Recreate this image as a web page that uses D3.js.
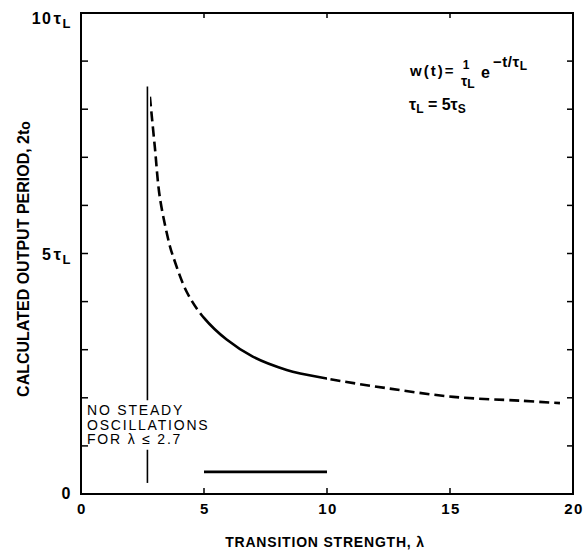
<!DOCTYPE html>
<html><head><meta charset="utf-8">
<script src="https://cdn.jsdelivr.net/npm/d3@7"></script>
<style>
body{margin:0;background:#fff}
text{font-family:"Liberation Sans",Arial,sans-serif;fill:#000}
</style>
</head><body>
<svg id="c" width="583" height="557"></svg>
<script>
// ---- data ----
const lambdaValues = [2.80, 3.00, 3.21, 3.62, 3.75, 4.30, 5.00, 5.92, 7.00, 8.36, 10.00, 12.43, 15.13, 17.85, 19.47];
const periodValues = [8.26, 7.22, 6.15, 5.14, 4.93, 4.20, 3.66, 3.21, 2.85, 2.58, 2.40, 2.20, 2.02, 1.94, 1.89];
const segmentStarts = [2.80, 5.00, 10.00];
const segmentEnds   = [5.00, 10.00, 19.47];
const segmentDashed = [true, false, true];
const thresholdLambda = 2.7;
const thresholdLow  = [0.23, 1.95];   // lower/upper end of each piece (broken by note text)
const thresholdHigh = [0.92, 8.47];
const barLambda = [5, 10];
const barPeriod = 0.46;
const xTickValues = [0, 5, 10, 15, 20];
const xInnerTicks = [5, 10, 15];
const yTickValues = [0,1,2,3,4,5,6,7,8,9,10];
const yLabelValues = [0, 5, 10];
const yLabelNum = ["0", "5", "10"];
const yLabelTau = [false, true, true];
const noteLines = ["NO STEADY", "OSCILLATIONS", "FOR \u03bb \u2264 2.7"];

const svg = d3.select("#c");
const x = d3.scaleLinear().domain([0, 20]).range([81, 573]);
const y = d3.scaleLinear().domain([0, 10]).range([494, 13]);

// frame
svg.append("rect").attr("x", x(0)).attr("y", y(10))
  .attr("width", x(20) - x(0)).attr("height", y(0) - y(10))
  .attr("fill", "none").attr("stroke", "#000").attr("stroke-width", 2);

// ticks (inward)
const tk = svg.append("g").attr("stroke", "#000").attr("stroke-width", 1.5);
yTickValues.slice(1, -1).forEach(v => {
  tk.append("line").attr("x1", x(0)).attr("x2", x(0) + 7).attr("y1", y(v)).attr("y2", y(v));
  tk.append("line").attr("x1", x(20)).attr("x2", x(20) - 6).attr("y1", y(v)).attr("y2", y(v));
});
xInnerTicks.forEach(v => {
  tk.append("line").attr("x1", x(v)).attr("x2", x(v)).attr("y1", y(0)).attr("y2", y(0) - 6);
  tk.append("line").attr("x1", x(v)).attr("x2", x(v)).attr("y1", y(10)).attr("y2", y(10) + 5);
});

// x tick labels
svg.append("g").selectAll("text").data(xTickValues).join("text")
  .attr("x", d => x(d) + 1).attr("y", 514).attr("text-anchor", "middle")
  .attr("font-size", 15).attr("font-weight", "bold").attr("letter-spacing", 1.5)
  .text(d => d);

// y tick labels
yLabelValues.forEach((v, i) => {
  const t = svg.append("text").attr("x", 72).attr("y", y(v) + (v === 0 ? 5 : v === 10 ? 11 : 6))
    .attr("text-anchor", "end").attr("font-size", 16).attr("font-weight", "bold").attr("letter-spacing", 1.5);
  t.append("tspan").text(yLabelNum[i]);
  if (yLabelTau[i]) {
    t.append("tspan").attr("font-size", 17).attr("dx", 1).text("\u03c4");
    t.append("tspan").attr("font-size", 13).attr("dy", 4).text("L");
  }
});

// axis titles
svg.append("text").attr("x", 325).attr("y", 547).attr("text-anchor", "middle")
  .attr("font-size", 14).attr("font-weight", "bold").attr("letter-spacing", 0.8)
  .text("TRANSITION STRENGTH, \u03bb");
const yt = svg.append("text").attr("transform", "translate(29,259) rotate(-90)")
  .attr("text-anchor", "middle").attr("font-size", 16).attr("font-weight", "bold");
yt.append("tspan").text("CALCULATED OUTPUT PERIOD, 2t");
yt.append("tspan").attr("font-size", 14).attr("dy", 1).text("o");

// curve segments (one smooth curve, clipped into dashed/solid λ ranges)
const line = d3.line().x(d => x(d[0])).y(d => y(d[1])).curve(d3.curveCatmullRom.alpha(0.5));
const pts = lambdaValues.map((l, i) => [l, periodValues[i]]);
segmentStarts.forEach((s, i) => {
  const clipId = "clip" + i;
  svg.append("clipPath").attr("id", clipId).append("rect")
    .attr("x", x(s)).attr("y", 0)
    .attr("width", x(segmentEnds[i]) - x(s) + (i === segmentStarts.length - 1 ? 3 : 0)).attr("height", 557);
  svg.append("path").datum(pts).attr("d", line).attr("clip-path", `url(#${clipId})`)
    .attr("fill", "none").attr("stroke", "#000").attr("stroke-width", 2.6)
    .attr("stroke-dasharray", segmentDashed[i] ? "10,5" : null);
});

// threshold vertical line
thresholdLow.forEach((lo, i) => {
  svg.append("line").attr("x1", x(thresholdLambda)).attr("x2", x(thresholdLambda))
    .attr("y1", y(lo)).attr("y2", y(thresholdHigh[i]))
    .attr("stroke", "#000").attr("stroke-width", 1.6);
});

// horizontal bar
svg.append("line").attr("x1", x(barLambda[0])).attr("x2", x(barLambda[1]))
  .attr("y1", y(barPeriod)).attr("y2", y(barPeriod))
  .attr("stroke", "#000").attr("stroke-width", 2.6);

// note text
svg.append("g").selectAll("text").data(noteLines).join("text")
  .attr("x", 87).attr("y", (d, i) => 415 + i * 14.5)
  .attr("font-size", 14).attr("letter-spacing", 1.8).attr("font-weight", 500)
  .text(d => d);

// formula
const f = svg.append("g").attr("font-weight", "bold");
f.append("text").attr("x", 410).attr("y", 76).attr("font-size", 15).attr("letter-spacing", 2).text("w(t)=");
f.append("text").attr("x", 466).attr("y", 69).attr("font-size", 12).attr("text-anchor", "middle").text("1");
const den = f.append("text").attr("x", 461).attr("y", 86).attr("font-size", 14);
den.append("tspan").text("\u03c4");
den.append("tspan").attr("font-size", 12).attr("dy", 2).text("L");
f.append("text").attr("x", 481).attr("y", 78).attr("font-size", 16).text("e");
const ex = f.append("text").attr("x", 493).attr("y", 67).attr("font-size", 15).attr("letter-spacing", 0.5);
ex.append("tspan").text("\u2212t/\u03c4");
ex.append("tspan").attr("font-size", 12).attr("dy", 3).text("L");
const l2 = f.append("text").attr("x", 409).attr("y", 110).attr("font-size", 16);
l2.append("tspan").text("\u03c4");
l2.append("tspan").attr("font-size", 12).attr("dy", 3).text("L");
l2.append("tspan").attr("dy", -3).text(" = 5\u03c4");
l2.append("tspan").attr("font-size", 12).attr("dy", 3).text("S");
</script>
</body></html>
